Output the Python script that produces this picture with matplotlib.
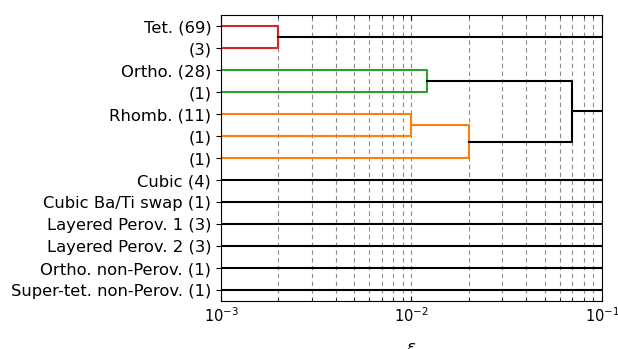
import matplotlib
matplotlib.use('Agg')
import matplotlib.pyplot as plt

labels = ['Tet. (69)', '(3)', 'Ortho. (28)', '(1)', 'Rhomb. (11)', '(1)', '(1)',
          'Cubic (4)', 'Cubic Ba/Ti swap (1)', 'Layered Perov. 1 (3)',
          'Layered Perov. 2 (3)', 'Ortho. non-Perov. (1)', 'Super-tet. non-Perov. (1)']

# merges: (node a, node b, distance, colour); new nodes are numbered after the leaves
merges = [
    (0, 1, 0.002, '#d62728'),
    (2, 3, 0.012, '#2ca02c'),
    (4, 5, 0.010, '#ff7f0e'),
    (15, 6, 0.020, '#ff7f0e'),
    (14, 16, 0.070, 'k'),
]
roots = [13, 17, 7, 8, 9, 10, 11, 12]

xmin, xmax = 1e-3, 1e-1

plt.rcParams['font.size'] = 11.8

fig = plt.figure(figsize=(6.18, 3.49), dpi=100)
ax = fig.add_axes([0.3576, 0.1375, 0.6165, 0.8195])

pos = {i: float(i) for i in range(len(labels))}
height = {i: xmin for i in range(len(labels))}
for k, (a, b, d, c) in enumerate(merges):
    node = len(labels) + k
    ax.plot([height[a], d, d, height[b]], [pos[a], pos[a], pos[b], pos[b]],
            color=c, lw=1.5)
    pos[node] = (pos[a] + pos[b]) / 2
    height[node] = d

for r in roots:
    ax.plot([height[r], xmax], [pos[r], pos[r]], color='k', lw=1.5)

ax.set_xscale('log')
ax.set_xlim(xmin, xmax)
ax.set_ylim(len(labels) - 0.5, -0.5)
ax.set_yticks(range(len(labels)))
ax.set_yticklabels(labels)
ax.tick_params(axis='x', which='both', direction='in', top=True, labelsize=10.5)
ax.grid(True, axis='x', which='both', ls=(0, (4, 3)), color='grey', lw=0.8, alpha=0.9)
ax.set_axisbelow(True)
ax.set_xlabel(r'$\varepsilon$', labelpad=11)

fig.savefig('out.png', dpi=100)
